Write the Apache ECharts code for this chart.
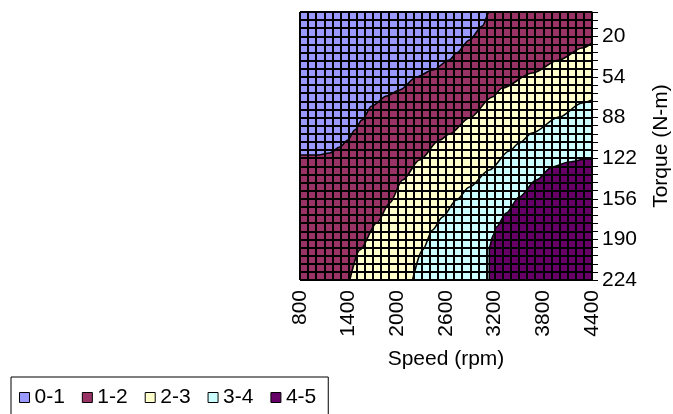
<!DOCTYPE html>
<html><head><meta charset="utf-8">
<script src="https://cdn.jsdelivr.net/npm/echarts@6/dist/echarts.min.js"></script>
<style>html,body{margin:0;padding:0;background:#fff}#c{width:673px;height:414px}</style>
</head><body><div id="c"></div>
<script>
// Contour bands (torque N-m vs speed rpm)
const bandNames = ['0-1', '1-2', '2-3', '3-4', '4-5'];
const bandColors = ['#9999FF', '#993366', '#FFFFCC', '#CCFFFF', '#660066'];

// Upper/left edge of each band; the band fills from this edge toward max torque
const edge01 = [[800, 0], [4400, 0]];
const edge12 = [[800, 119.5], [1021, 119.5], [1169, 117.8], [1291, 112.8], [1390, 107], [1476, 98.6],
  [1562, 90.3], [1685, 78.6], [1869, 70.2], [2028, 65.2], [2237, 54.3], [2434, 48.5], [2643, 40.1],
  [2729, 34.3], [2889, 23.4], [3048, 11.7], [3134, 0], [4400, 0]];
const edge23 = [[1414, 224], [1537, 198.9], [1746, 176.4], [1906, 159.6], [2065, 140.4], [2274, 123.7],
  [2520, 107], [2643, 102], [2888, 88.6], [3171, 71], [3294, 63.5], [3663, 51], [3994, 40.1],
  [4277, 30.1], [4400, 25.9]];
const edge34 = [[2188, 224], [2311, 198.9], [2434, 182.2], [2557, 171.3], [2729, 157.1], [2888, 146.3],
  [3134, 132.1], [3380, 116.2], [3503, 109.5], [3662, 101.1], [3994, 87.8], [4277, 76.1], [4400, 73.6]];
const edge45 = [[3134, 224], [3134, 196.4], [3183, 186.4], [3220, 179.7], [3343, 168], [3503, 154.6],
  [3712, 140.4], [3908, 129.5], [4117, 125.4], [4326, 122.9], [4400, 122.9]];
const bandEdges = [edge01, edge12, edge23, edge34, edge45];

// Axes
const speedMin = 800, speedMax = 4400, speedStep = 600, speedMinorSplits = 6;
const torqueMin = 0, torqueMax = 224, torqueRows = 33;
const torqueLabels = [20, 54, 88, 122, 156, 190, 224];

const FONT = "'Liberation Sans', Arial, sans-serif";
const FS = 21;
const chart = echarts.init(document.getElementById('c'), null, {renderer: 'canvas'});

const series = bandNames.map((name, i) => ({
  type: 'line',
  name: name,
  data: bandEdges[i],
  symbol: 'none',
  smooth: i === 0 ? false : 0.3,
  smoothMonotone: 'x',
  color: bandColors[i],
  lineStyle: {color: '#000', width: i === 0 ? 0 : 1.6},
  areaStyle: {color: bandColors[i], opacity: 1, origin: 'end'},
  z: 2
}));

chart.setOption({
  animation: false,
  backgroundColor: '#fff',
  grid: {left: 300, right: 80, top: 12, bottom: 134, show: false},
  legend: {
    left: 11, top: 377,
    orient: 'horizontal',
    icon: 'rect',
    itemWidth: 10, itemHeight: 10, itemGap: 17,
    padding: [10, 12, 10, 8],
    borderColor: '#000', borderWidth: 1,
    textStyle: {fontSize: FS, color: '#000', fontFamily: FONT},
    itemStyle: {borderColor: '#000', borderWidth: 1},
    data: bandNames.map((n, i) => ({name: n, itemStyle: {color: bandColors[i], borderColor: '#000', borderWidth: 1}}))
  },
  xAxis: {
    type: 'value', min: speedMin, max: speedMax, interval: speedStep,
    position: 'bottom', z: 10,
    name: 'Speed (rpm)', nameLocation: 'middle', nameGap: 69,
    nameTextStyle: {fontSize: FS, color: '#000', fontFamily: FONT},
    axisLine: {show: true, lineStyle: {color: '#000', width: 1}},
    axisTick: {show: true, length: 6, lineStyle: {color: '#000', width: 1}},
    minorTick: {show: true, splitNumber: speedMinorSplits, length: 6, lineStyle: {color: '#000', width: 1}},
    splitLine: {show: true, lineStyle: {color: '#000', width: 2}},
    minorSplitLine: {show: true, lineStyle: {color: '#000', width: 2}},
    axisLabel: {rotate: 90, fontSize: FS, color: '#000', fontFamily: FONT, margin: 10,
      formatter: v => String(Math.round(v))}
  },
  yAxis: {
    type: 'value', min: torqueMin, max: torqueMax, interval: (torqueMax - torqueMin) / torqueRows,
    inverse: true, position: 'right', z: 10,
    name: 'Torque (N-m)', nameLocation: 'middle', nameGap: 59, nameRotate: 90,
    nameTextStyle: {fontSize: FS, color: '#000', fontFamily: FONT},
    axisLine: {show: true, lineStyle: {color: '#000', width: 1}},
    axisTick: {show: true, length: 6, lineStyle: {color: '#000', width: 1}},
    splitLine: {show: true, lineStyle: {color: '#000', width: 2}},
    axisLabel: {
      fontSize: FS, color: '#000', fontFamily: FONT, margin: 10,
      formatter: v => torqueLabels.indexOf(Math.round(v)) >= 0 ? String(Math.round(v)) : ''
    }
  },
  series: series
});
</script></body></html>
